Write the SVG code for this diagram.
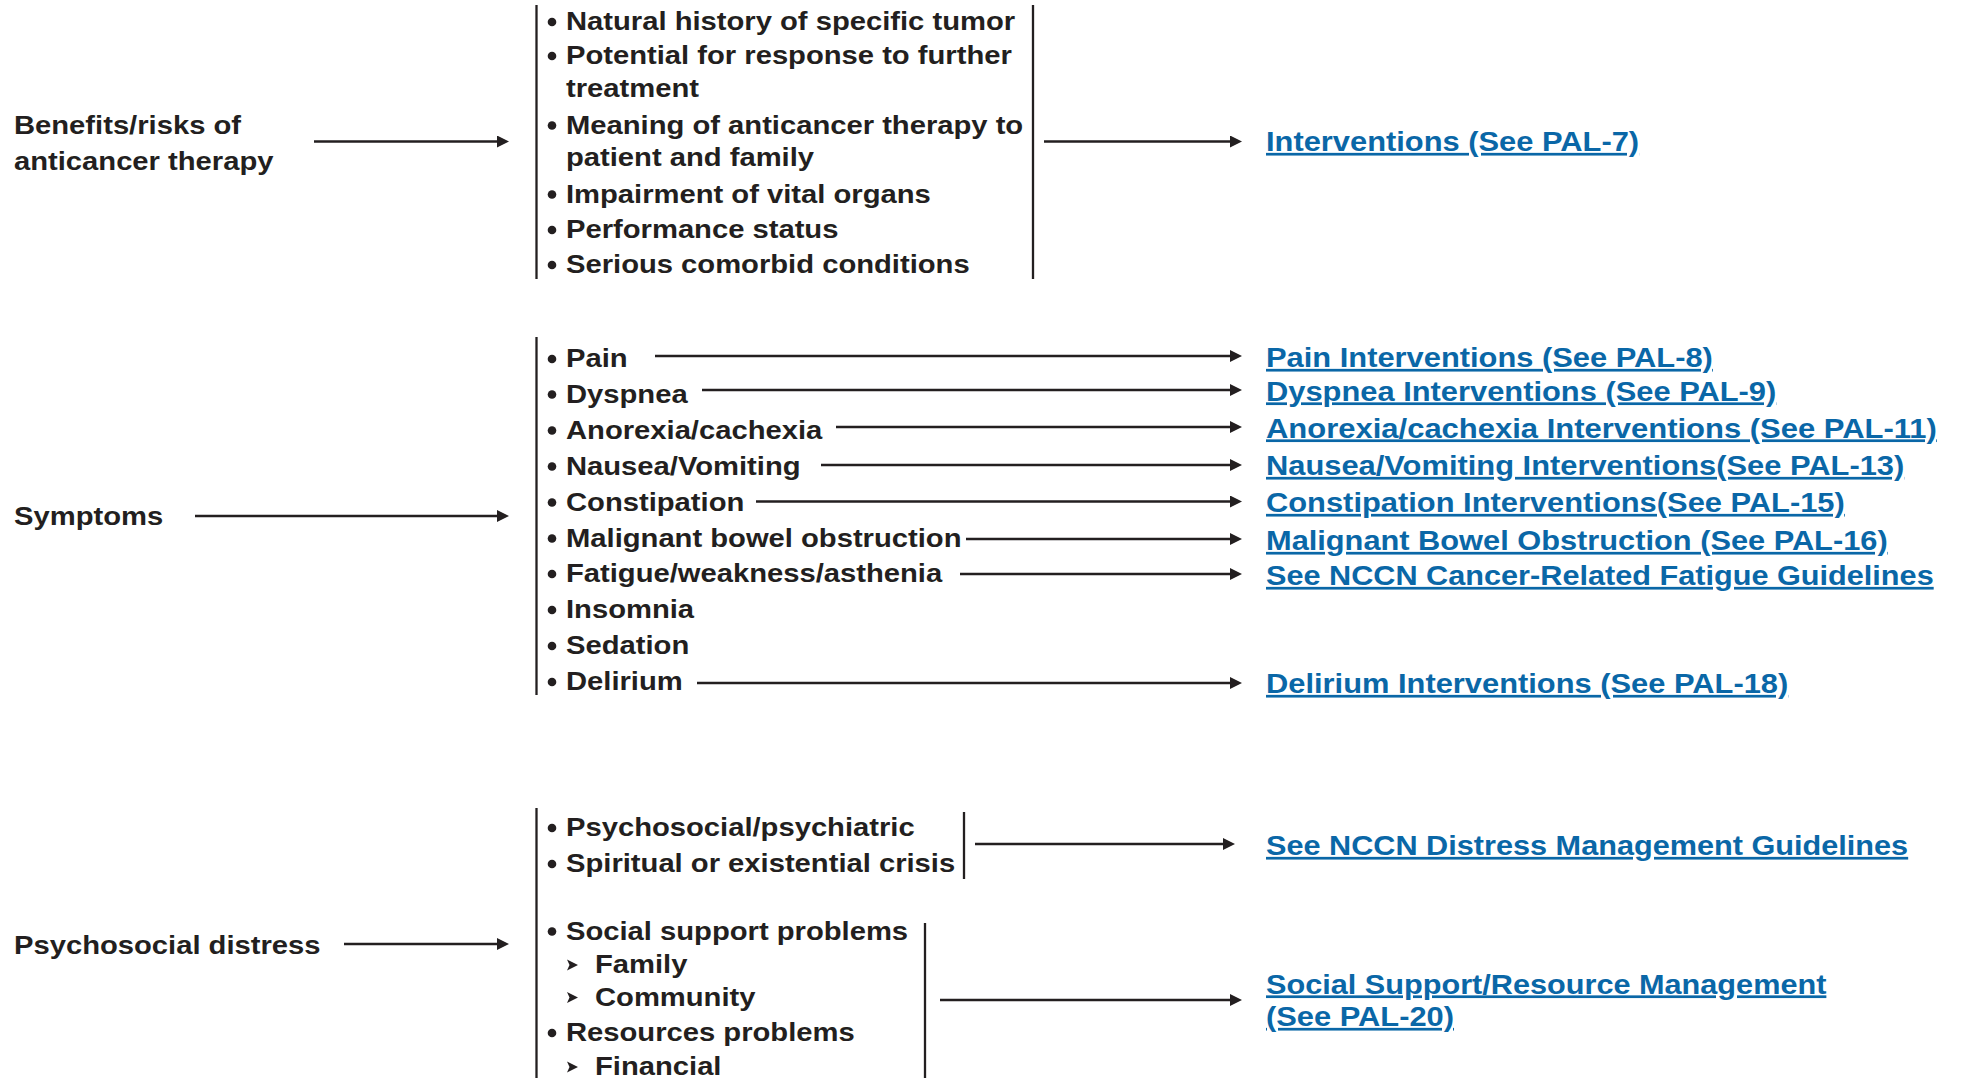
<svg xmlns="http://www.w3.org/2000/svg" width="1961" height="1078" viewBox="0 0 1961 1078">
  <style>
    .t { font-family: "Liberation Sans", Arial, Helvetica, sans-serif; font-weight: bold; font-size: 26px; fill: #231f20; }
    .lnk { font-family: "Liberation Sans", Arial, Helvetica, sans-serif; font-weight: bold; font-size: 27px; fill: #0a67a7; text-decoration: underline; }
    .bar { stroke: #231f20; stroke-width: 2.3; fill: none; }
    .edge { stroke: #231f20; stroke-width: 2.5; fill: none; marker-end: url(#head); }
  </style>
  <defs>
    <marker id="head" viewBox="0 0 12 12" refX="0" refY="6" markerWidth="12" markerHeight="12" markerUnits="userSpaceOnUse" orient="auto">
      <path d="M0,0 L12,6 L0,12 z" fill="#231f20"/>
    </marker>
    <circle id="dot" r="4.3" fill="#231f20"/>
    <path id="tri" d="M0,-5.5 L11,0 L0,5.5 L2.5,0 z" fill="#231f20"/>
  </defs>
  <rect width="1961" height="1078" fill="#ffffff"/>

  <!-- Row 1: benefits / risks -->
  <g id="benefits">
    <text class="t" transform="translate(14 134) scale(1.123 1)">Benefits/risks of</text>
    <text class="t" transform="translate(14 170) scale(1.123 1)">anticancer therapy</text>
  </g>
  <g id="benefit-factors">
    <line class="bar" x1="536.5" y1="5" x2="536.5" y2="279"/>
    <line class="bar" x1="1033" y1="5" x2="1033" y2="279"/>
    <use href="#dot" x="552" y="22"/>
    <text class="t" transform="translate(566 30) scale(1.123 1)">Natural history of specific tumor</text>
    <use href="#dot" x="552" y="56"/>
    <text class="t" transform="translate(566 64) scale(1.123 1)">Potential for response to further</text>
    <text class="t" transform="translate(566 96.5) scale(1.123 1)">treatment</text>
    <use href="#dot" x="552" y="125.5"/>
    <text class="t" transform="translate(566 133.5) scale(1.123 1)">Meaning of anticancer therapy to</text>
    <text class="t" transform="translate(566 166) scale(1.123 1)">patient and family</text>
    <use href="#dot" x="552" y="194.5"/>
    <text class="t" transform="translate(566 202.5) scale(1.123 1)">Impairment of vital organs</text>
    <use href="#dot" x="552" y="230"/>
    <text class="t" transform="translate(566 238) scale(1.123 1)">Performance status</text>
    <use href="#dot" x="552" y="265"/>
    <text class="t" transform="translate(566 273) scale(1.123 1)">Serious comorbid conditions</text>
  </g>
  <g id="link-pal7">
    <text class="lnk" transform="translate(1266 151) scale(1.143 1)">Interventions (See PAL-7)</text>
  </g>

  <!-- Row 2: symptoms -->
  <g id="symptoms">
    <text class="t" transform="translate(14 525) scale(1.123 1)">Symptoms</text>
  </g>
  <g id="symptom-list">
    <line class="bar" x1="536.5" y1="337" x2="536.5" y2="695"/>
    <use href="#dot" x="552" y="359"/>
    <text class="t" transform="translate(566 367) scale(1.123 1)">Pain</text>
    <use href="#dot" x="552" y="394.5"/>
    <text class="t" transform="translate(566 402.5) scale(1.123 1)">Dyspnea</text>
    <use href="#dot" x="552" y="430.5"/>
    <text class="t" transform="translate(566 438.5) scale(1.123 1)">Anorexia/cachexia</text>
    <use href="#dot" x="552" y="466.5"/>
    <text class="t" transform="translate(566 474.5) scale(1.123 1)">Nausea/Vomiting</text>
    <use href="#dot" x="552" y="502.5"/>
    <text class="t" transform="translate(566 510.5) scale(1.123 1)">Constipation</text>
    <use href="#dot" x="552" y="538.5"/>
    <text class="t" transform="translate(566 546.5) scale(1.123 1)">Malignant bowel obstruction</text>
    <use href="#dot" x="552" y="574"/>
    <text class="t" transform="translate(566 582) scale(1.123 1)">Fatigue/weakness/asthenia</text>
    <use href="#dot" x="552" y="610"/>
    <text class="t" transform="translate(566 618) scale(1.123 1)">Insomnia</text>
    <use href="#dot" x="552" y="646"/>
    <text class="t" transform="translate(566 654) scale(1.123 1)">Sedation</text>
    <use href="#dot" x="552" y="682"/>
    <text class="t" transform="translate(566 690) scale(1.123 1)">Delirium</text>
  </g>
  <g id="link-pal8"><text class="lnk" transform="translate(1266 367) scale(1.143 1)">Pain Interventions (See PAL-8)</text></g>
  <g id="link-pal9"><text class="lnk" transform="translate(1266 400.5) scale(1.143 1)">Dyspnea Interventions (See PAL-9)</text></g>
  <g id="link-pal11"><text class="lnk" transform="translate(1266 437.5) scale(1.148 1)">Anorexia/cachexia Interventions (See PAL-11)</text></g>
  <g id="link-pal13"><text class="lnk" transform="translate(1266 475) scale(1.143 1)">Nausea/Vomiting Interventions(See PAL-13)</text></g>
  <g id="link-pal15"><text class="lnk" transform="translate(1266 512) scale(1.143 1)">Constipation Interventions(See PAL-15)</text></g>
  <g id="link-pal16"><text class="lnk" transform="translate(1266 550) scale(1.14 1)">Malignant Bowel Obstruction (See PAL-16)</text></g>
  <g id="link-fatigue"><text class="lnk" transform="translate(1266 585) scale(1.136 1)">See NCCN Cancer-Related Fatigue Guidelines</text></g>
  <g id="link-pal18"><text class="lnk" transform="translate(1266 693) scale(1.143 1)">Delirium Interventions (See PAL-18)</text></g>

  <!-- Row 3: psychosocial distress -->
  <g id="distress">
    <text class="t" transform="translate(14 954) scale(1.123 1)">Psychosocial distress</text>
  </g>
  <g id="distress-list">
    <line class="bar" x1="536.5" y1="808" x2="536.5" y2="1078"/>
  </g>
  <g id="distress-psych">
    <line class="bar" x1="964" y1="812" x2="964" y2="879"/>
    <use href="#dot" x="552" y="828"/>
    <text class="t" transform="translate(566 836) scale(1.123 1)">Psychosocial/psychiatric</text>
    <use href="#dot" x="552" y="864"/>
    <text class="t" transform="translate(566 872) scale(1.123 1)">Spiritual or existential crisis</text>
  </g>
  <g id="distress-social">
    <line class="bar" x1="925" y1="923" x2="925" y2="1078"/>
    <use href="#dot" x="552" y="931.5"/>
    <text class="t" transform="translate(566 939.5) scale(1.123 1)">Social support problems</text>
    <use href="#tri" x="567" y="965"/>
    <text class="t" transform="translate(595 973) scale(1.123 1)">Family</text>
    <use href="#tri" x="567" y="997.5"/>
    <text class="t" transform="translate(595 1005.5) scale(1.123 1)">Community</text>
    <use href="#dot" x="552" y="1033"/>
    <text class="t" transform="translate(566 1041) scale(1.123 1)">Resources problems</text>
    <use href="#tri" x="567" y="1067"/>
    <text class="t" transform="translate(595 1075) scale(1.123 1)">Financial</text>
  </g>
  <g id="link-distress"><text class="lnk" transform="translate(1266 855) scale(1.136 1)">See NCCN Distress Management Guidelines</text></g>
  <g id="link-pal20">
    <text class="lnk" transform="translate(1266 993.5) scale(1.136 1)">Social Support/Resource Management</text>
    <text class="lnk" transform="translate(1266 1026) scale(1.143 1)">(See PAL-20)</text>
  </g>

  <!-- Arrows -->
  <g id="connectors">
    <line class="edge" x1="314" y1="141.5" x2="497" y2="141.5"/>
    <line class="edge" x1="1044" y1="141.5" x2="1230" y2="141.5"/>
    <line class="edge" x1="195" y1="516" x2="497" y2="516"/>
    <line class="edge" x1="655" y1="356" x2="1230" y2="356"/>
    <line class="edge" x1="702" y1="390" x2="1230" y2="390"/>
    <line class="edge" x1="836" y1="427" x2="1230" y2="427"/>
    <line class="edge" x1="821" y1="465" x2="1230" y2="465"/>
    <line class="edge" x1="756" y1="501.5" x2="1230" y2="501.5"/>
    <line class="edge" x1="966" y1="539" x2="1230" y2="539"/>
    <line class="edge" x1="960" y1="574" x2="1230" y2="574"/>
    <line class="edge" x1="697" y1="683" x2="1230" y2="683"/>
    <line class="edge" x1="344" y1="944" x2="497" y2="944"/>
    <line class="edge" x1="975" y1="844" x2="1223" y2="844"/>
    <line class="edge" x1="940" y1="1000" x2="1230" y2="1000"/>
  </g>
</svg>
